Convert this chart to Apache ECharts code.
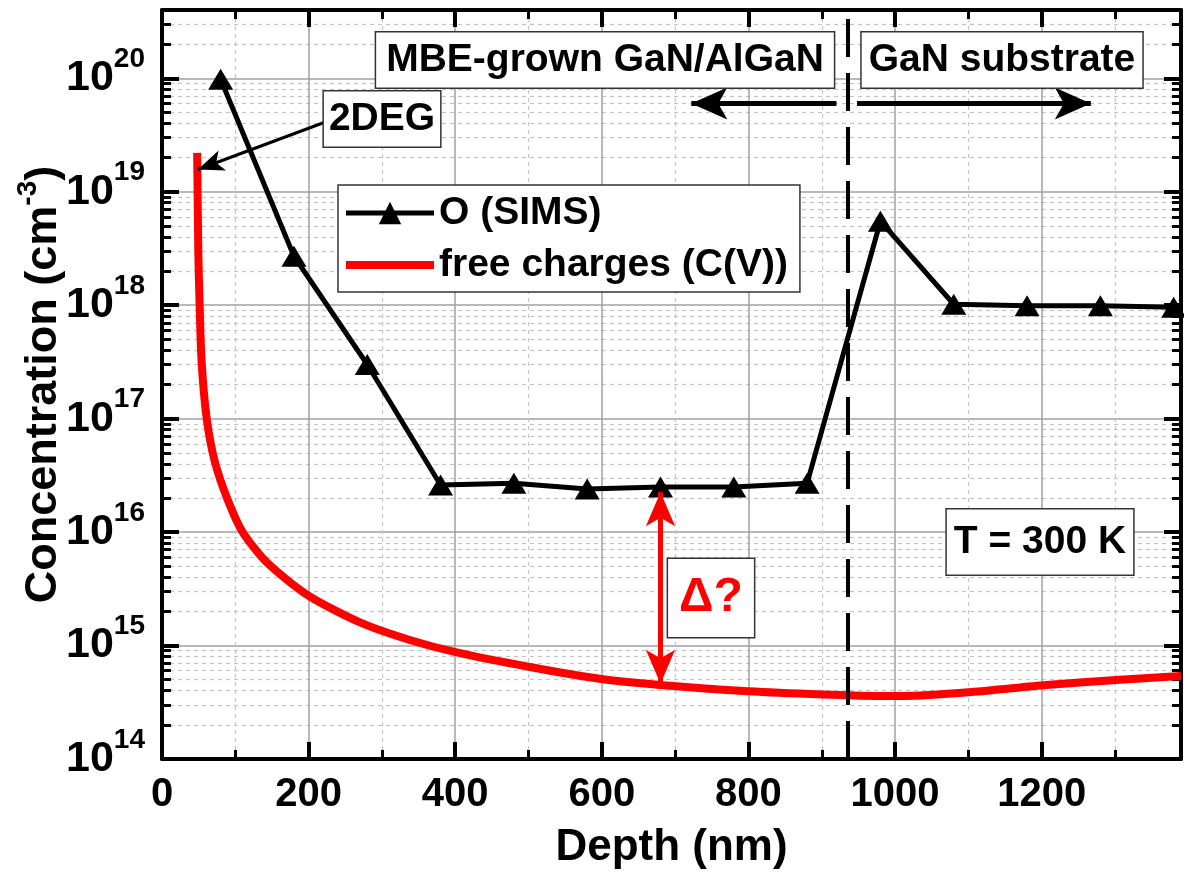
<!DOCTYPE html>
<html>
<head>
<meta charset="utf-8">
<script src="https://cdn.jsdelivr.net/npm/echarts@6/dist/echarts.min.js"></script>
<style>
html, body { margin: 0; padding: 0; background: #fff; }
#chart { width: 1184px; height: 875px; }
</style>
</head>
<body>
<div id="chart"></div>
<script>
var FONT = '"Liberation Sans", Arial, Helvetica, sans-serif';

// O (SIMS) profile
var simsDepth = [80, 180, 280, 380, 480, 580, 680, 780, 880, 980, 1080, 1180, 1280, 1380];
var simsConc = [9.8e19, 2.7e18, 3.0e17, 2.6e16, 2.7e16, 2.4e16, 2.5e16, 2.5e16, 2.7e16, 5.5e18, 1.02e18, 9.9e17, 9.9e17, 9.6e17];

// free charges from C(V)
var cvDepth = [48, 49.5, 51, 54, 61, 72, 90, 110, 143, 198, 270, 338, 402, 500, 597, 679, 800, 901, 974, 1010, 1104, 1206, 1307, 1390];
var cvConc = [2.2e19, 3e18, 1.2e18, 3.2e17, 1.0e17, 4.2e16, 1.9e16, 1.0e16, 5.4e15, 2.8e15, 1.6e15, 1.12e15, 8.7e14, 6.5e14, 5.1e14, 4.5e14, 3.95e14, 3.7e14, 3.6e14, 3.6e14, 3.9e14, 4.5e14, 5.0e14, 5.4e14];

// axes
var xTicks = [0, 200, 400, 600, 800, 1000, 1200];
var yExponents = [14, 15, 16, 17, 18, 19, 20];

// annotation anchors (data coordinates)
var interfaceDepth = 935;
var layerArrowY = 6e19;
var deegArrow = [[222, 4.1e19], [49, 1.57e19]];
var deltaArrow = [[680, 2.25e16], [680, 4.6e14]];

function pairs(xs, ys) {
  return xs.map(function (x, i) { return [x, ys[i]]; });
}

var chart = echarts.init(document.getElementById('chart'));

var boxText = function (text, x, y, color, size, padding) {
  return {
    type: 'text',
    x: x,
    y: y,
    z: 100,
    style: {
      text: text,
      x: 0,
      y: 0,
      align: 'center',
      verticalAlign: 'middle',
      fill: color,
      font: 'bold ' + size + 'px ' + FONT,
      backgroundColor: '#fff',
      borderColor: '#333',
      borderWidth: 1.5,
      padding: padding
    }
  };
};

var tickStyle = { show: true, inside: true, length: 17, lineStyle: { color: '#000', width: 4 } };
var minorTickStyle = { show: true, length: 9, lineStyle: { color: '#000', width: 3 } };

var xBase = {
  type: 'value',
  min: 0,
  max: 1390,
  interval: 200,
  axisLine: { show: true, onZero: false, lineStyle: { color: '#000', width: 4 } },
  axisTick: tickStyle,
  minorTick: Object.assign({ splitNumber: 2 }, minorTickStyle)
};

var yBase = {
  type: 'log',
  logBase: 10,
  min: 1e14,
  max: 4e20,
  axisLine: { show: true, onZero: false, lineStyle: { color: '#000', width: 4 } },
  axisTick: tickStyle,
  minorTick: Object.assign({ splitNumber: 9 }, minorTickStyle)
};

chart.setOption({
  animation: false,
  backgroundColor: '#fff',
  grid: { left: 162, right: 1, top: 10, bottom: 107, containLabel: false },
  xAxis: [
    Object.assign({}, xBase, {
      position: 'bottom',
      name: 'Depth (nm)',
      nameLocation: 'middle',
      nameGap: 67,
      nameMoveOverlap: false,
      nameTextStyle: { fontFamily: FONT, fontWeight: 'bold', fontSize: 44, color: '#000', verticalAlign: 'top' },
      axisLabel: {
        margin: 16,
        fontFamily: FONT, fontWeight: 'bold', fontSize: 40, color: '#000',
        formatter: function (v) { return xTicks.indexOf(v) >= 0 ? String(v) : ''; }
      },
      splitLine: { show: true, lineStyle: { color: '#a0a0a0', width: 1.5 } },
      minorSplitLine: { show: true, lineStyle: { color: '#c4c4c4', width: 1.2, type: [4, 4] } }
    }),
    Object.assign({}, xBase, {
      position: 'top',
      axisLabel: { show: false },
      splitLine: { show: false }
    })
  ],
  yAxis: [
    Object.assign({}, yBase, {
      position: 'left',
      name: '{a|Concentration (cm}{s|-3}{a|)}',
      nameLocation: 'middle',
      nameGap: 88,
      nameMoveOverlap: false,
      nameRotate: 90,
      nameTextStyle: {
        rich: {
          a: { fontFamily: FONT, fontWeight: 'bold', fontSize: 45, color: '#000', lineHeight: 60 },
          s: { fontFamily: FONT, fontWeight: 'bold', fontSize: 28, color: '#000', lineHeight: 28, verticalAlign: 'top' }
        }
      },
      axisLabel: {
        margin: 17,
        formatter: function (v) {
          var e = Math.log10(v);
          var r = Math.round(e);
          if (Math.abs(e - r) > 1e-6 || yExponents.indexOf(r) < 0) return '';
          return '{b|10}{s|' + r + '}';
        },
        rich: {
          b: { fontFamily: FONT, fontWeight: 'bold', fontSize: 43, color: '#000', lineHeight: 66 },
          s: { fontFamily: FONT, fontWeight: 'bold', fontSize: 28, color: '#000', lineHeight: 28, verticalAlign: 'top' }
        }
      },
      splitLine: { show: true, lineStyle: { color: '#a0a0a0', width: 1.5 } },
      minorSplitLine: { show: true, lineStyle: { color: '#c4c4c4', width: 1.2, type: [4, 4] } }
    }),
    Object.assign({}, yBase, {
      position: 'right',
      axisLabel: { show: false },
      splitLine: { show: false }
    })
  ],
  legend: {
    left: 338,
    top: 185,
    orient: 'vertical',
    backgroundColor: '#fff',
    borderColor: '#333',
    borderWidth: 1.5,
    borderRadius: 0,
    padding: [8, 12, 7, 4],
    itemGap: 12,
    itemWidth: 88,
    itemHeight: 28,
    selectedMode: false,
    textStyle: { fontFamily: FONT, fontWeight: 'bold', fontSize: 39, color: '#000', lineHeight: 40 },
    data: [
      { name: 'O (SIMS)', lineStyle: { width: 5, color: '#000' } },
      { name: 'free charges (C(V))', itemStyle: { opacity: 0 }, lineStyle: { width: 8, color: '#ff0000' } }
    ]
  },
  series: [
    {
      name: 'free charges (C(V))',
      type: 'line',
      xAxisIndex: 0,
      yAxisIndex: 0,
      data: pairs(cvDepth, cvConc),
      showSymbol: false,
      symbol: 'none',
      smooth: 0.25,
      lineStyle: { color: '#ff0000', width: 8 },
      itemStyle: { color: '#ff0000' },
      z: 3
    },
    {
      name: 'O (SIMS)',
      type: 'line',
      xAxisIndex: 0,
      yAxisIndex: 0,
      data: pairs(simsDepth, simsConc),
      symbol: 'triangle',
      symbolSize: [25, 21],
      lineStyle: { color: '#000', width: 5 },
      itemStyle: { color: '#000' },
      z: 4
    },
    {
      name: 'annotations',
      type: 'line',
      xAxisIndex: 0,
      yAxisIndex: 0,
      data: [],
      z: 5,
      markLine: {
        silent: true,
        animation: false,
        label: { show: false },
        emphasis: { disabled: true },
        data: [
          [
            { coord: [interfaceDepth, 1e14], symbol: 'none', lineStyle: { color: '#000', width: 4, type: [38, 16] } },
            { coord: [interfaceDepth, 4e20], symbol: 'none' }
          ],
          [
            { coord: [920, layerArrowY], symbol: 'none', lineStyle: { color: '#000', width: 5, type: 'solid' } },
            { coord: [722, layerArrowY], symbol: 'arrow', symbolSize: [24, 36] }
          ],
          [
            { coord: [948, layerArrowY], symbol: 'none', lineStyle: { color: '#000', width: 5, type: 'solid' } },
            { coord: [1267, layerArrowY], symbol: 'arrow', symbolSize: [24, 36] }
          ],
          [
            { coord: deegArrow[0], symbol: 'none', lineStyle: { color: '#000', width: 3, type: 'solid' } },
            { coord: deegArrow[1], symbol: 'arrow', symbolSize: [16, 26] }
          ],
          [
            { coord: deltaArrow[0], symbol: 'arrow', symbolSize: [22, 34], lineStyle: { color: '#ff0000', width: 5, type: 'solid' } },
            { coord: deltaArrow[1], symbol: 'arrow', symbolSize: [22, 34] }
          ]
        ]
      }
    }
  ],
  graphic: [
    boxText('MBE-grown GaN/AlGaN', 605, 60, '#000', 39, [8, 10, 8, 10]),
    boxText('GaN substrate', 1002, 60, '#000', 39, [8, 7, 8, 7]),
    boxText('2DEG', 382, 119, '#000', 39, [8, 5, 8, 5]),
    boxText('T = 300 K', 1040, 542, '#000', 39, [13, 7, 13, 7]),
    boxText('\u0394?', 711, 598, '#ff0000', 48, [15, 11, 15, 11])
  ]
});
</script>
</body>
</html>
